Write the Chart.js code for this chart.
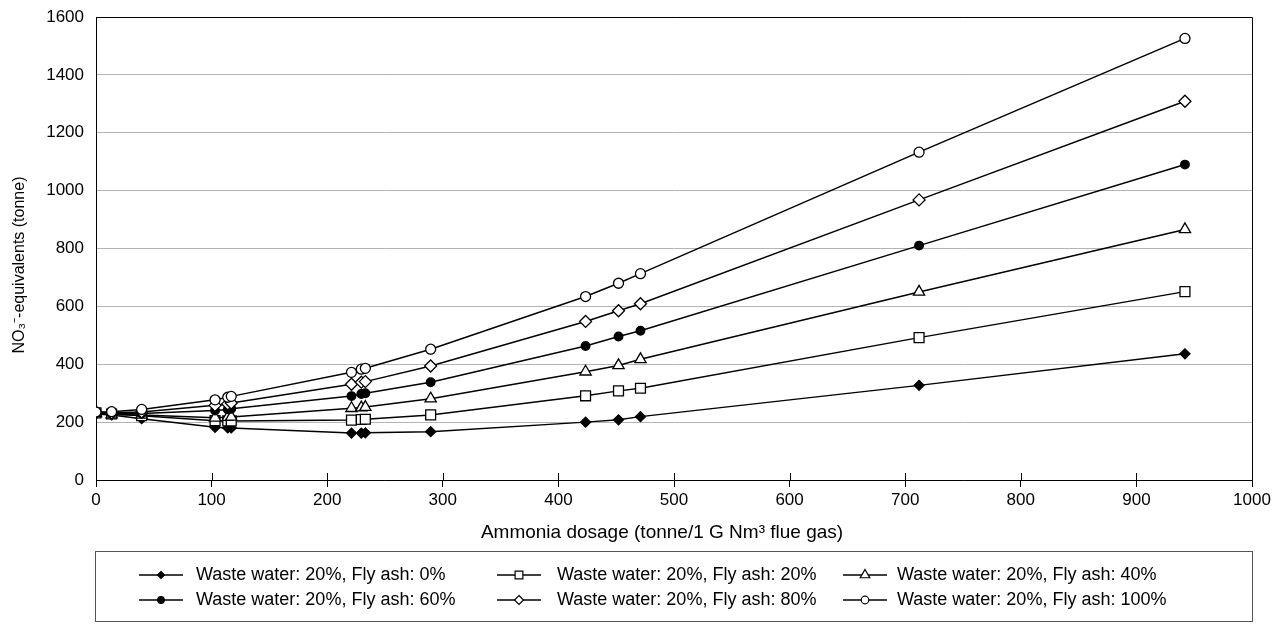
<!DOCTYPE html>
<html><head><meta charset="utf-8">
<script src="https://cdn.jsdelivr.net/npm/chart.js@4.4.1/dist/chart.umd.min.js"></script>
<style>html,body{margin:0;padding:0;background:#fff;}#wrap{width:1282px;height:624px;position:relative;}</style>
</head><body><div id="wrap"><canvas id="c" width="1282" height="624"></canvas></div>
<script>
// ---- data ----
const dosage = [0, 13.5, 39.5, 103, 114, 117, 221, 229.5, 233, 289.5, 423.5, 452, 471, 712, 942];
const flyAsh0   = [228, 225, 212, 182, 180, 180, 162, 162, 163, 167, 200, 208, 219, 327, 436];
const flyAsh20  = [232, 228, 222, 205, 204, 204, 207, 209, 210, 225, 291, 308, 317, 492, 651];
const flyAsh40  = [230, 226, 225, 215, 217, 218, 248, 250, 252, 281, 374, 396, 417, 650, 866];
const flyAsh60  = [233, 230, 230, 240, 244, 246, 290, 297, 300, 338, 463, 496, 516, 810, 1090];
const flyAsh80  = [234, 232, 235, 258, 263, 266, 331, 338, 340, 394, 548, 585, 609, 968, 1309];
const flyAsh100 = [235, 236, 244, 277, 286, 289, 372, 383, 386, 452, 634, 680, 713, 1133, 1526];
const seriesNames = [
  'Waste water: 20%, Fly ash: 0%', 'Waste water: 20%, Fly ash: 20%', 'Waste water: 20%, Fly ash: 40%',
  'Waste water: 20%, Fly ash: 60%', 'Waste water: 20%, Fly ash: 80%', 'Waste water: 20%, Fly ash: 100%'
];
const xTickValues = [0, 100, 200, 300, 400, 500, 600, 700, 800, 900, 1000];
const yTickValues = [0, 200, 400, 600, 800, 1000, 1200, 1400, 1600];
const xTitle = 'Ammonia dosage (tonne/1 G Nm³ flue gas)';
const yTitle = 'NO₃⁻-equivalents (tonne)';

// ---- styles ----
const FONT = '"Liberation Sans", Arial, sans-serif';
const allSeries = [flyAsh0, flyAsh20, flyAsh40, flyAsh60, flyAsh80, flyAsh100];
const markerStyles = [
  {ps: 'rectRot', r: 5, fill: '#000', lr: 3.5},
  {ps: 'rect', r: 7, fill: '#fff', lr: 5.5},
  {ps: 'triangle', r: 6.5, fill: '#fff', lr: 5.5},
  {ps: 'circle', r: 4.3, fill: '#000', lr: 3.3},
  {ps: 'rectRot', r: 6, fill: '#fff', lr: 4.5},
  {ps: 'circle', r: 5, fill: '#fff', lr: 3.8}
];

const datasets = allSeries.map((vals, i) => ({
  label: seriesNames[i],
  data: vals.map((v, k) => ({x: dosage[k], y: v})),
  showLine: true,
  borderColor: '#000',
  borderWidth: 1.5,
  pointStyle: markerStyles[i].ps,
  pointRadius: markerStyles[i].r,
  pointBackgroundColor: markerStyles[i].fill,
  pointBorderColor: '#000',
  pointBorderWidth: 1.3,
  order: 5 - i
}));

function drawShape(ctx, ps, r, x, y) {
  if (ps === 'circle') { ctx.arc(x, y, r, 0, Math.PI * 2); }
  else if (ps === 'rect') { const s = r * Math.SQRT1_2; ctx.rect(x - s, y - s, 2 * s, 2 * s); }
  else if (ps === 'rectRot') { ctx.moveTo(x, y - r); ctx.lineTo(x + r, y); ctx.lineTo(x, y + r); ctx.lineTo(x - r, y); ctx.closePath(); }
  else if (ps === 'triangle') {
    const h = r * Math.sqrt(3) / 2;
    ctx.moveTo(x, y - r); ctx.lineTo(x + h, y + r / 2); ctx.lineTo(x - h, y + r / 2); ctx.closePath();
  }
}

const decor = {
  id: 'decor',
  beforeDatasetsDraw(chart) {
    const {ctx, chartArea: a, scales} = chart;
    ctx.save();
    ctx.strokeStyle = '#000';
    ctx.lineWidth = 1;
    ctx.beginPath();
    ctx.moveTo(a.left, Math.round(a.top) + 0.5); ctx.lineTo(Math.round(a.right) + 0.5, Math.round(a.top) + 0.5);
    ctx.lineTo(Math.round(a.right) + 0.5, a.bottom);
    xTickValues.forEach(v => {
      const px = Math.round(scales.x.getPixelForValue(v)) + 0.5;
      ctx.moveTo(px, a.bottom); ctx.lineTo(px, a.bottom - 7);
    });
    ctx.stroke();
    ctx.restore();
  },
  afterDraw(chart) {
    const ctx = chart.ctx;
    ctx.save();
    ctx.fillStyle = '#000';
    ctx.textAlign = 'center';
    ctx.textBaseline = 'middle';
    ctx.font = '19px ' + FONT;
    ctx.fillText(xTitle, 662, 533);
    ctx.save();
    ctx.translate(20, 265);
    ctx.rotate(-Math.PI / 2);
    ctx.font = '16px ' + FONT;
    ctx.fillText(yTitle, 0, 0);
    ctx.restore();
    // legend
    ctx.strokeStyle = '#555';
    ctx.lineWidth = 1;
    ctx.strokeRect(95.5, 551.5, 1157, 70);
    const lineX = [139, 497, 843];
    const textX = [196, 557, 897];
    const rowY = [575, 600];
    ctx.textAlign = 'left';
    ctx.font = '18px ' + FONT;
    seriesNames.forEach((name, i) => {
      const col = i % 3, row = Math.floor(i / 3);
      const y = rowY[row];
      ctx.strokeStyle = '#000';
      ctx.lineWidth = 1.5;
      ctx.beginPath();
      ctx.moveTo(lineX[col], y); ctx.lineTo(lineX[col] + 44, y);
      ctx.stroke();
      const m = markerStyles[i];
      ctx.fillStyle = m.fill; ctx.lineWidth = 1.2;
      ctx.beginPath();
      drawShape(ctx, m.ps, m.lr, lineX[col] + 22, y);
      ctx.fill(); ctx.stroke();
      ctx.fillStyle = '#000';
      ctx.fillText(name, textX[col], y);
    });
    ctx.restore();
  }
};

new Chart(document.getElementById('c'), {
  type: 'scatter',
  data: {datasets},
  options: {
    responsive: false,
    devicePixelRatio: 1,
    animation: false,
    layout: {padding: {left: 0, right: 30, top: 17, bottom: 77}},
    plugins: {legend: {display: false}, tooltip: {enabled: false}},
    scales: {
      x: {
        type: 'linear', min: 0, max: 1000,
        afterBuildTicks: s => { s.ticks = xTickValues.map(v => ({value: v})); },
        afterFit: s => { s.height = 67; },
        ticks: {color: '#000', font: {family: FONT, size: 17}, padding: 3, maxRotation: 0, callback: v => String(v)},
        grid: {display: true, drawOnChartArea: false, drawTicks: true, tickLength: 7, color: '#000', lineWidth: 1},
        border: {display: true, color: '#000', width: 1},
        title: {display: false, text: xTitle}
      },
      y: {
        type: 'linear', min: 0, max: 1600,
        afterBuildTicks: s => { s.ticks = yTickValues.map(v => ({value: v})); },
        afterFit: s => { s.width = 96; },
        ticks: {color: '#000', font: {family: FONT, size: 17}, padding: 2, callback: v => String(v)},
        grid: {color: '#b4b4b4', lineWidth: 1, drawTicks: true, tickLength: 10, tickColor: 'rgba(0,0,0,0)'},
        border: {display: true, color: '#000', width: 1},
        title: {display: false, text: yTitle}
      }
    }
  },
  plugins: [decor]
});
</script>
</body></html>
